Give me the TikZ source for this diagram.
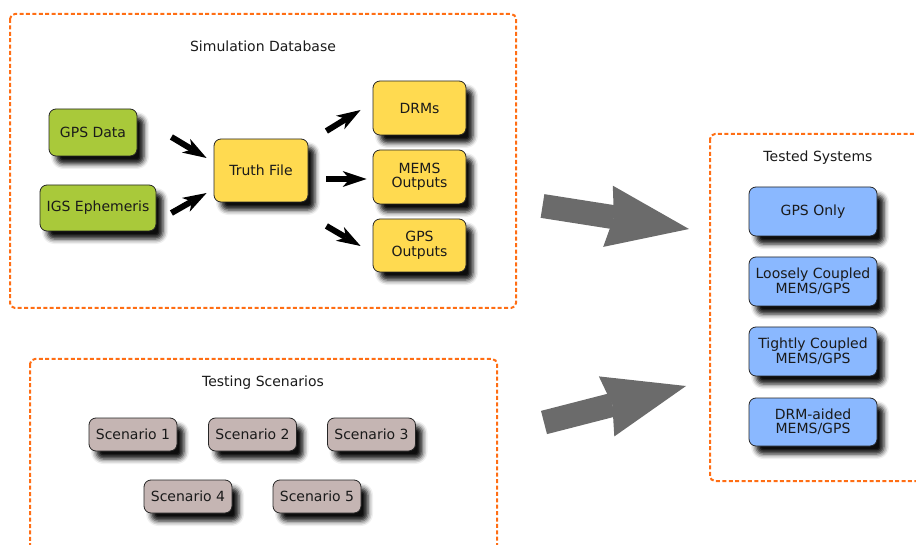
\documentclass[tikz,border=0pt]{standalone}
\usepackage{fontspec}
\setmainfont{DejaVu Sans}
\usetikzlibrary{arrows.meta,shadows.blur,calc}

\definecolor{grpfill}{HTML}{A9C93A}
\definecolor{ylwfill}{HTML}{FFDA50}
\definecolor{bluefill}{HTML}{8AB8FF}
\definecolor{scnfill}{HTML}{C5B5B3}
\definecolor{frameorange}{HTML}{FF6E14}
\definecolor{bigarrow}{HTML}{6B6B6B}
\definecolor{txt}{HTML}{1A1A1A}

\tikzset{
  box/.style={draw=black!85, line width=0.8pt, rounded corners=7pt,
    text=txt, align=center, inner sep=2pt,
    font=\fontsize{14}{14.5}\selectfont,
    blur shadow={shadow xshift=7pt, shadow yshift=-8pt,
      shadow blur radius=5pt, shadow opacity=95}},
  greenbox/.style={box, fill=grpfill},
  yellowbox/.style={box, fill=ylwfill, minimum width=93pt, minimum height=54pt},
  bluebox/.style={box, fill=bluefill, minimum width=128pt, minimum height=49pt},
  scnbox/.style={box, fill=scnfill, minimum width=88pt, minimum height=33pt},
  groupframe/.style={draw=frameorange, line width=2pt, dash pattern=on 4pt off 2.4pt,
    rounded corners=5pt},
  grouptitle/.style={text=txt, font=\fontsize{14}{16}\selectfont},
  flowarrow/.style={draw=black, line width=6pt,
    -{Stealth[length=24pt 0 0, width=16pt 0 0, inset=7pt 0 0, line width=0pt 0 0]}},
  bigflow/.style={draw=bigarrow, line width=24pt,
    -{Stealth[length=82pt 0 0, width=62pt 0 0, inset=6pt 0 0, line width=0pt 0 0]}}
}

\begin{document}
\begin{tikzpicture}[x=1pt, y=-1pt]
\clip (0,0) rectangle (916,545);

% group frames
\draw[groupframe] (10,14) rectangle (516,308);
\draw[groupframe] (710,134) rectangle (935,481);
\draw[groupframe] (30,359) rectangle (497,570);

\node[grouptitle] (titlesim) at (263,46) {Simulation Database};
\node[grouptitle] (titletest) at (818,158) {Tested Systems};
\node[grouptitle] (titlescn) at (263,383) {Testing Scenarios};

% simulation database
\node[greenbox, minimum width=88pt, minimum height=47pt] (gps) at (93,132.5) {GPS Data};
\node[greenbox, minimum width=116pt, minimum height=46pt] (igs) at (98,208) {IGS Ephemeris};
\node[yellowbox, minimum width=94pt, minimum height=63pt] (truth) at (261,170.5) {Truth File};
\node[yellowbox] (drm) at (419.5,108) {DRMs};
\node[yellowbox] (mems) at (419.5,177) {MEMS\\Outputs};
\node[yellowbox, minimum height=53pt] (gpsout) at (419.5,245.5) {GPS\\Outputs};

\draw[flowarrow] ([shift={(34,4.5)}]gps.east) -- ([shift={(-7,-12.5)}]truth.west);
\draw[flowarrow] ([shift={(15,5)}]igs.east) -- ([shift={(-7,22.5)}]truth.west);
\draw[flowarrow] ([shift={(18,-39.5)}]truth.east) -- ([shift={(-12,2)}]drm.west);
\draw[flowarrow] ([shift={(18,8.5)}]truth.east) -- ([shift={(-6,2)}]mems.west);
\draw[flowarrow] ([shift={(18,55.5)}]truth.east) -- ([shift={(-12,0.5)}]gpsout.west);

% tested systems
\node[bluebox] (gpsonly) at (813,211.5) {GPS Only};
\node[bluebox] (loose) at (813,281.5) {Loosely Coupled\\MEMS/GPS};
\node[bluebox] (tight) at (813,351.5) {Tightly Coupled\\MEMS/GPS};
\node[bluebox, minimum height=48pt] (drmaided) at (813,422) {DRM-aided\\MEMS/GPS};

% testing scenarios
\node[scnbox] (s1) at (133,434.5) {Scenario 1};
\node[scnbox] (s2) at (252.5,434.5) {Scenario 2};
\node[scnbox] (s3) at (371.5,434.5) {Scenario 3};
\node[scnbox] (s4) at (188,496.5) {Scenario 4};
\node[scnbox] (s5) at (317,496.5) {Scenario 5};

% flows between the groups
\coordinate (simout) at (542.5,206);
\coordinate (sysin) at (689,229);
\coordinate (scnout) at (544,422.5);
\coordinate (sysin2) at (686,386);
\draw[bigflow] (simout) -- (sysin);
\draw[bigflow] (scnout) -- (sysin2);
\end{tikzpicture}
\end{document}
